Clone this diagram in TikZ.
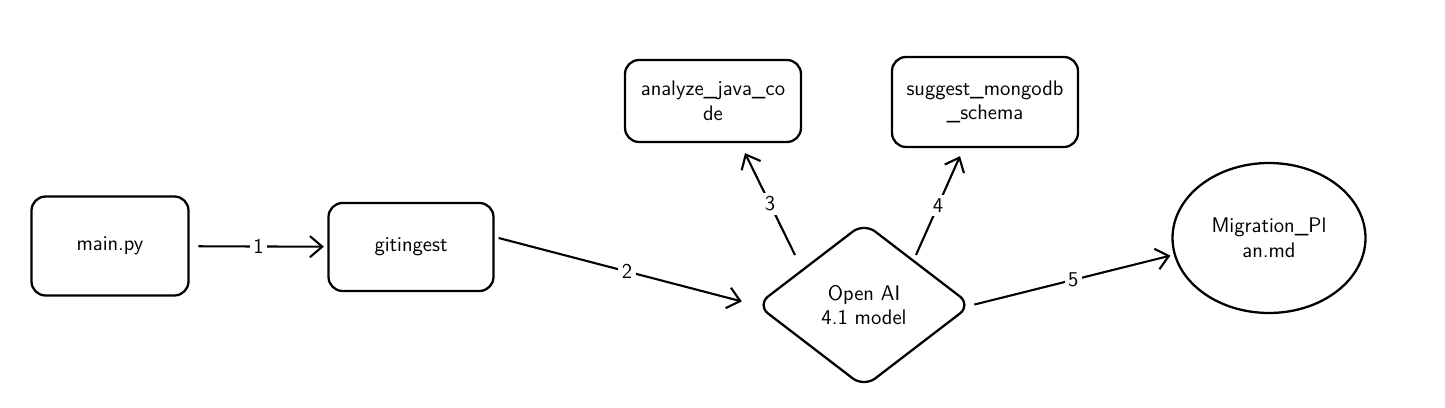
\documentclass[tikz,border=0pt]{standalone}
\usepackage{xcolor}
\usepackage{tikz}
\usetikzlibrary{arrows.meta, shapes.geometric}

\begin{document}
\begin{tikzpicture}[
        x=0.02cm, y=-0.02cm,
        % Script box style
        stepbox/.style={
            rectangle, draw=black, line width=1.3pt,
            rounded corners=8pt, align=center,
            font=\sffamily\large
        },
        % Model in the middle
        model/.style={
            diamond, draw=black, line width=1.3pt,
            rounded corners=8pt, aspect=1.3, align=center,
            minimum width=4.3cm, minimum height=3.3cm,
            inner sep=0pt, font=\sffamily\large
        },
        % Output file
        outfile/.style={
            ellipse, draw=black, line width=1.3pt, align=center,
            minimum width=3.86cm, minimum height=3.0cm,
            font=\sffamily\large
        },
        % Link style: open barb at the front, gap at both ends
        link/.style={
            draw=black, line width=1.2pt,
            -{Straight Barb[length=7pt, width=12pt, line width=1.2pt]}
        },
        num/.style={fill=white, inner sep=2pt, font=\sffamily\large}
    ]

        \useasboundingbox (0,0) rectangle (1445,408);

        % Nodes
        \node[stepbox, minimum width=3.14cm, minimum height=1.98cm] (main) at (110,246) {main.py};
        \node[stepbox, minimum width=3.30cm, minimum height=1.76cm] (git) at (411,247) {gitingest};
        \node[model] (ai) at (864,305) {Open AI\\4.1 model};
        \node[stepbox, minimum width=3.52cm, minimum height=1.64cm] (java) at (713,101) {analyze\_java\_co\\de};
        \node[stepbox, minimum width=3.72cm, minimum height=1.80cm] (mongo) at (985,102) {suggest\_mongodb\\\_schema};
        \node[outfile] (plan) at (1269,238) {Migration\_Pl\\an.md};

        % Free ends of the links
        \coordinate (g2) at ([shift={(4,-9)}]git.east);
        \coordinate (a3) at ([shift={(-69,-50)}]ai.center);
        \coordinate (j3) at ([shift={(32,10)}]java.south);
        \coordinate (a4) at ([shift={(52,-50)}]ai.center);
        \coordinate (m4) at ([shift={(-25,8)}]mongo.south);

        % Connections
        \draw[link, shorten <=5pt, shorten >=2pt] (main) -- node[num] {1} (git);
        \draw[link, shorten >=8pt] (g2) -- node[num] {2} (ai.west);
        \draw[link] (a3) -- node[num] {3} (j3);
        \draw[link] (a4) -- node[num] {4} (m4);
        \draw[link, shorten <=1pt, shorten >=2pt] (ai.east) -- node[num] {5} (plan.190);

    \end{tikzpicture}
\end{document}
